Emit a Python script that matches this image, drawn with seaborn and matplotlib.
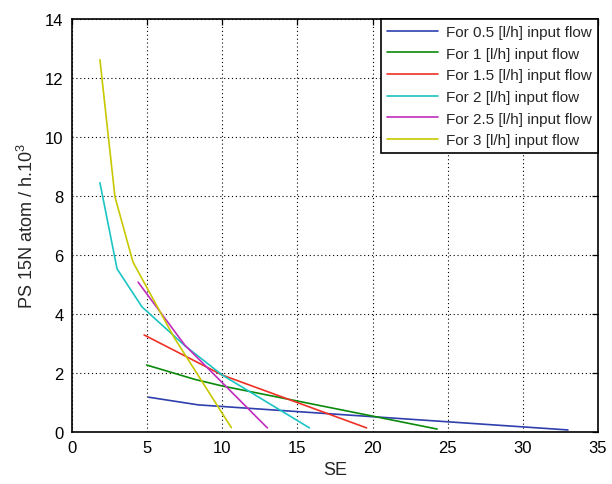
import numpy as np
import pandas as pd
import matplotlib
matplotlib.use("Agg")
import matplotlib.pyplot as plt
import seaborn as sns

labels = ["For 0.5 [l/h] input flow", "For 1 [l/h] input flow", "For 1.5 [l/h] input flow",
          "For 2 [l/h] input flow", "For 2.5 [l/h] input flow", "For 3 [l/h] input flow"]
se_05 = [5.1, 8.4, 33.0]
ps_05 = [1.18, 0.92, 0.07]
se_10 = [4.97, 8.2, 10.0, 24.3]
ps_10 = [2.27, 1.78, 1.56, 0.10]
se_15 = [4.8, 10.0, 19.6]
ps_15 = [3.29, 1.93, 0.14]
se_20 = [1.86, 3.0, 4.66, 7.5, 10.0, 15.8]
ps_20 = [8.45, 5.53, 4.24, 2.93, 1.93, 0.14]
se_25 = [4.4, 7.5, 13.0]
ps_25 = [5.08, 2.95, 0.14]
se_30 = [1.86, 2.86, 4.06, 6.8, 10.6]
ps_30 = [12.62, 7.97, 5.76, 3.2, 0.15]
colors = ["#2e3fae", "#0a8a0a", "#ee3124", "#1cc4c4", "#c02cbf", "#c8c800"]

frames = []
for lab, xs, ys in zip(labels, [se_05, se_10, se_15, se_20, se_25, se_30],
                       [ps_05, ps_10, ps_15, ps_20, ps_25, ps_30]):
    frames.append(pd.DataFrame({"SE": xs, "PS": ys, "series": lab, "order": range(len(xs))}))
df = pd.concat(frames, ignore_index=True)

sns.set_style("white")
plt.rcParams["font.family"] = ["Liberation Sans", "DejaVu Sans"]
plt.rcParams["mathtext.fontset"] = "custom"
plt.rcParams["mathtext.rm"] = "Liberation Sans"
plt.rcParams["mathtext.it"] = "Liberation Sans"

fig = plt.figure(figsize=(6.12, 4.85), dpi=100)
ax = fig.add_axes([0.1176, 0.1072, 0.8595, 0.8516])
sns.lineplot(data=df, x="SE", y="PS", hue="series", hue_order=labels,
             palette=colors, sort=False, estimator=None, units="series",
             linewidth=1.2, ax=ax)

ax.set_xlim(0, 35)
ax.set_ylim(0, 14)
ax.set_xticks(np.arange(0, 36, 5))
ax.set_yticks(np.arange(0, 15, 2))
ax.grid(True, color="black", linestyle=(0, (1, 2.5)), linewidth=0.8)
ax.tick_params(direction="in", length=4, width=0.9, top=True, right=True,
               labelsize=12, colors="black", pad=6)
for s in ax.spines.values():
    s.set_color("black")
    s.set_linewidth(1.2)
ax.set_xlabel("SE", fontsize=13, labelpad=4)
ax.set_ylabel("PS 15N atom / h.10$^3$", fontsize=13, labelpad=6)

leg = ax.legend(loc="upper right", fontsize=11, frameon=True, fancybox=False,
                edgecolor="black", borderpad=0.4, handlelength=3.3,
                labelspacing=0.5, borderaxespad=0.0, handletextpad=0.55)
leg.get_frame().set_linewidth(1.2)
leg.get_frame().set_alpha(1)

fig.savefig("out.png", dpi=100)
